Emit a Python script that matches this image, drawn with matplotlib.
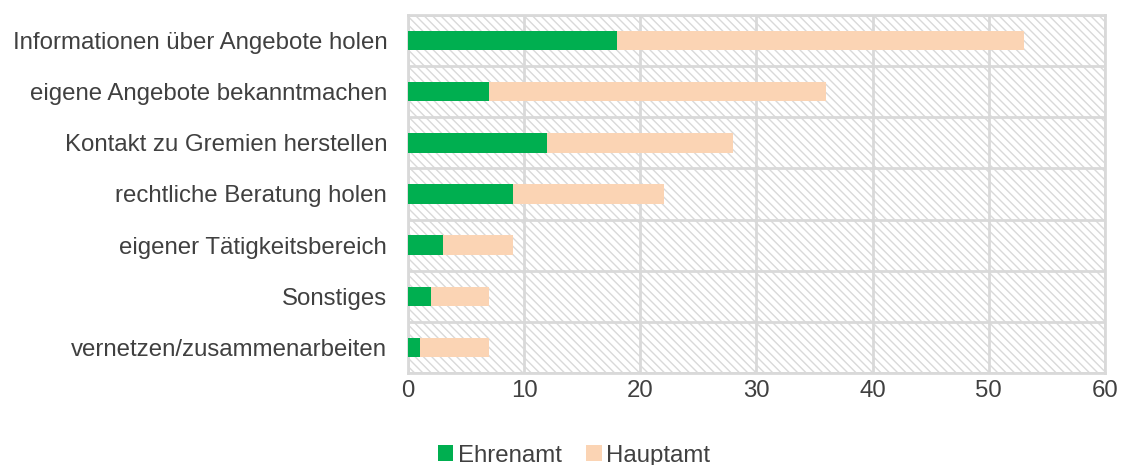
import numpy as np
import matplotlib.pyplot as plt
from matplotlib.patches import Rectangle

plt.rcParams['font.family'] = ['Liberation Sans', 'DejaVu Sans']
plt.rcParams['hatch.linewidth'] = 1.0

kategorien = ['Informationen über Angebote holen', 'eigene Angebote bekanntmachen',
              'Kontakt zu Gremien herstellen', 'rechtliche Beratung holen',
              'eigener Tätigkeitsbereich', 'Sonstiges', 'vernetzen/zusammenarbeiten']
ehrenamt = [18, 7, 12, 9, 3, 2, 1]
hauptamt = [35, 29, 16, 13, 6, 5, 6]

text_farbe = '#404040'
grid_farbe = '#d9d9d9'

fig = plt.figure(figsize=(11.22, 4.65), dpi=100)
ax = fig.add_axes([0.3636, 0.198, 0.6212, 0.7697])

# schraffierter Hintergrund
bg = Rectangle((0, 0), 1, 1, transform=ax.transAxes, facecolor='white',
               edgecolor=grid_farbe, hatch='\\\\\\\\', linewidth=0, zorder=0)
ax.add_patch(bg)

y = np.arange(len(kategorien))[::-1]
ax.barh(y, ehrenamt, height=0.38, color='#00AF50', label='Ehrenamt', zorder=3)
ax.barh(y, hauptamt, left=ehrenamt, height=0.38, color='#FBD4B4', label='Hauptamt', zorder=3)

ax.set_xlim(0, 60)
ax.set_ylim(-0.5, len(kategorien) - 0.5)
ax.set_xticks(np.arange(0, 61, 10))
ax.set_yticks(y)
ax.set_yticklabels(kategorien)
ax.set_yticks(np.arange(-0.5, len(kategorien), 1), minor=True)

ax.grid(axis='x', color=grid_farbe, linewidth=2, zorder=1)
ax.grid(axis='y', which='minor', color=grid_farbe, linewidth=2, zorder=1)
ax.grid(axis='y', which='major', visible=False)
ax.set_axisbelow(True)

for s in ax.spines.values():
    s.set_color(grid_farbe)
    s.set_linewidth(2)

ax.tick_params(axis='both', which='both', length=0, colors=text_farbe, labelsize=17.3)
ax.tick_params(axis='y', pad=15)
ax.tick_params(axis='x', pad=5)

leg = fig.legend(loc='lower center', bbox_to_anchor=(0.5116, -0.05), ncol=2, frameon=False,
                 fontsize=17.3, handlelength=0.65, handleheight=0.65, handletextpad=0.2,
                 columnspacing=1.0)
for t in leg.get_texts():
    t.set_color(text_farbe)

fig.savefig('out.png', dpi=100)
